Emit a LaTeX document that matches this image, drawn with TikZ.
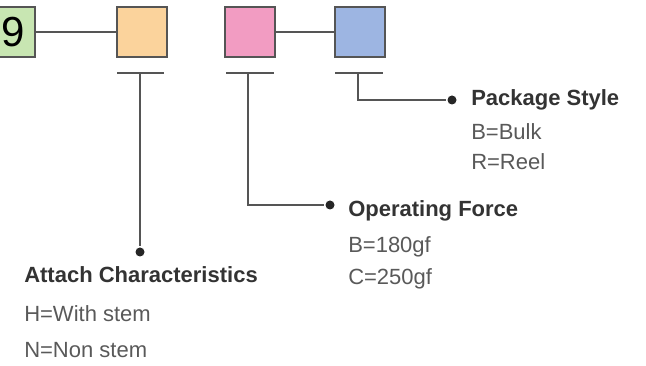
\documentclass[tikz,border=0pt]{standalone}
\usepackage{fontspec}
\setmainfont{Liberation Sans}
\usetikzlibrary{positioning,calc}

\definecolor{linegray}{HTML}{555555}
\definecolor{boxgreen}{HTML}{C8E6B2}
\definecolor{boxorange}{HTML}{FBD39C}
\definecolor{boxpink}{HTML}{F29CC2}
\definecolor{boxblue}{HTML}{9DB5E2}

\begin{document}
\begin{tikzpicture}[x=1pt,y=-1pt,line width=2.5pt]

  \tikzset{
    code/.style={draw=linegray,line width=2pt,minimum size=50pt,inner sep=0pt},
    wire/.style={draw=linegray},
    head/.style={anchor=base west,inner sep=0pt,font=\fontsize{22}{26}\selectfont\bfseries,text=black!80},
    val/.style={anchor=base west,inner sep=0pt,font=\fontsize{22}{26}\selectfont,text=black!65},
    dot/.style={fill=black!85,circle,inner sep=0pt,minimum size=9pt},
  }

  \useasboundingbox (0,0) rectangle (646,366);

   \node[code,fill=boxgreen,minimum width=70pt] (nine) at (0,32) {};
   \node[font=\fontsize{42}{44}\selectfont,inner sep=0pt] (ninetext) at (13,32) {9};
   \node[code,fill=boxorange] (attachbox) at (142,32) {};
   \node[code,fill=boxpink] (forcebox) at (250,32) {};
   \node[code,fill=boxblue] (packbox) at (360,32) {};
   \draw[wire] (nine) -- (attachbox);
   \draw[wire] (forcebox) -- (packbox);

   % bars under the boxes
   \coordinate (attachbar) at (140,73);
   \coordinate (forcebar) at (248,73);
   \coordinate (packbar) at (358,73);
   \draw[wire] ($(attachbar)+(-23,0)$) -- ($(attachbar)+(24,0)$);
   \draw[wire] ($(forcebar)+(-22,0)$) -- ($(forcebar)+(26,0)$);
   \draw[wire] ($(packbar)+(-23,0)$) -- ($(packbar)+(25,0)$);

   % package style
   \node[dot] (packdot) at (452,100) {};
   \draw[wire] (packbar) |- (packdot);
   \node[head] (pack) at (470,106) {Package Style};
   \node[val] (bulk) at (470,140) {B=Bulk};
   \node[val] (reel) at (470,170) {R=Reel};

   % operating force
   \node[dot] (forcedot) at (330,205) {};
   \draw[wire] (forcebar) |- (forcedot);
   \node[head] (force) at (347,217) {Operating Force};
   \node[val] (gfb) at (347,253) {B=180gf};
   \node[val] (gfc) at (347,285) {C=250gf};

   % attach characteristics
   \node[dot] (attachdot) at (140,252) {};
   \draw[wire] (attachbar) -- (attachdot);
   \node[head] (attach) at (23,283) {Attach Characteristics};
   \node[val] (stem) at (23,322) {H=With stem};
   \node[val] (nostem) at (23,358) {N=Non stem};

\end{tikzpicture}
\end{document}
